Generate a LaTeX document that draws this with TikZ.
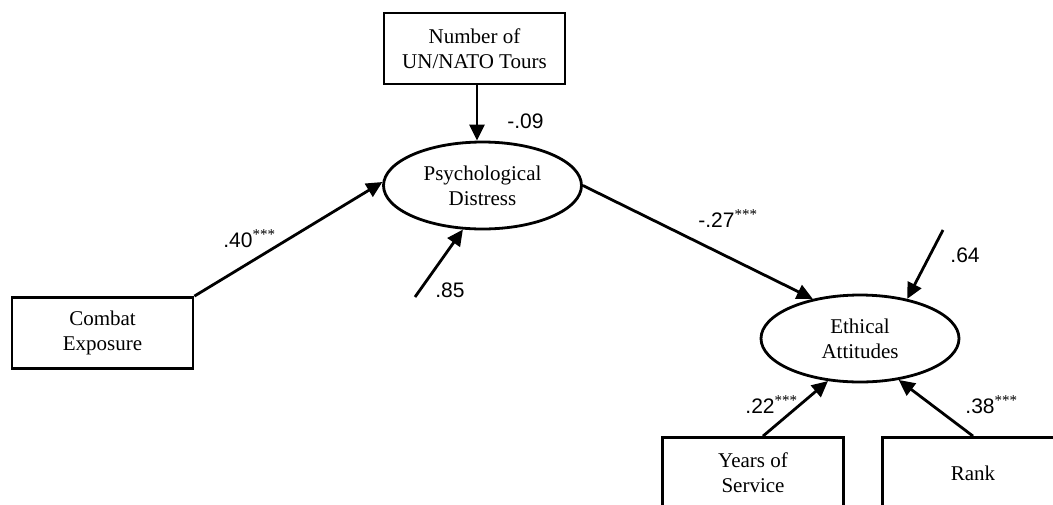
\documentclass[tikz,border=0pt]{standalone}
\usepackage{fontspec}
\setmainfont{Liberation Serif}
\newfontfamily\numfont{Liberation Sans}
\usetikzlibrary{shapes.geometric,arrows.meta}
\tikzset{
  obsbox/.style={draw, line width=1.4pt, minimum width=90.5pt, minimum height=35.5pt, inner sep=0pt, align=center, font=\fontsize{10.5}{12.5}\selectfont},
  latent/.style={draw, ellipse, line width=1.4pt, minimum width=99pt, minimum height=43.5pt, inner sep=0pt, align=center, font=\fontsize{10.5}{12.5}\selectfont},
  path/.style={line width=1.4pt, -{Triangle[length=8pt,width=7.5pt]}},
  coef/.style={anchor=base west, inner sep=0pt, font=\numfont\fontsize{10.5}{12}\selectfont},
}
\newcommand{\stars}{\textsuperscript{\rmfamily\fontsize{7.5}{8}\selectfont ***}}
\begin{document}
\begin{tikzpicture}[x=0.5pt,y=-0.5pt]
\useasboundingbox (0,0) rectangle (1053,504);
% nodes
\node[obsbox] (num) at (474.5,48.5) {Number of\\UN/NATO Tours};
\node[obsbox] (combat) at (102.5,333) {Combat\\Exposure};
\node[latent] (psych) at (482.5,185.5) {Psychological\\Distress};
\node[latent] (eth) at (860,338.5) {Ethical\\Attitudes};
\node[obsbox] (yrs) at (753,473) {Years of\\Service};
\node[obsbox] (rank) at (973,473) {Rank};
% error terms
\coordinate (e1) at (415,297);
\coordinate (e2) at (943,230);
% connectors
\draw[path] ([xshift=1.25pt]num.south) -- ([xshift=1.25pt]num.south |- psych.north);
\draw[path] (combat.north east) -- (psych.178);
\draw[path] (e1) -- (psych.246);
\draw[path] (psych.east) -- (eth.140);
\draw[path] (e2) -- (eth.40);
\draw[path] ([xshift=5pt]yrs.north) -- (eth.233);
\draw[path] (rank.north) -- (eth.313);
% coefficients
\node[coef] (c1) at (507,128) {-.09};
\node[coef] (c2) at (223,247) {.40\stars};
\node[coef] (c3) at (435,297) {.85};
\node[coef] (c4) at (698,227) {-.27\stars};
\node[coef] (c5) at (950,262) {.64};
\node[coef] (c6) at (745,413) {.22\stars};
\node[coef] (c7) at (965,413) {.38\stars};
\end{tikzpicture}
\end{document}
